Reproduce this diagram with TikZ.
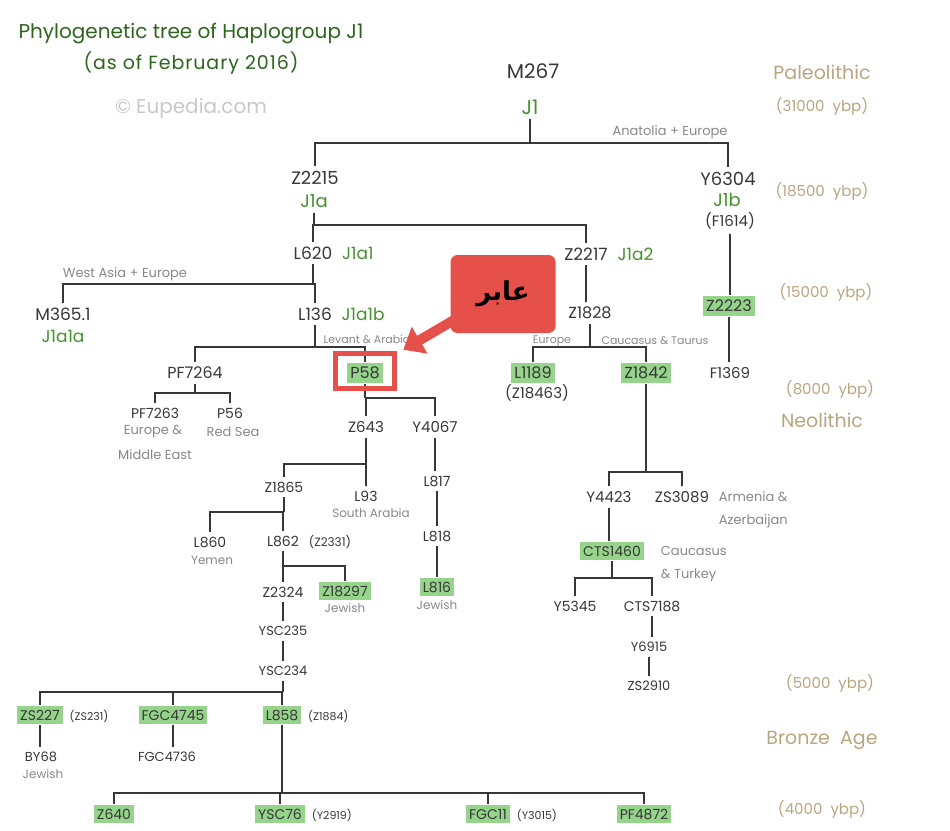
\documentclass[tikz,border=0pt]{standalone}
\usepackage{fontspec}
\setmainfont{Poppins}
\newfontfamily\arabicfont[Script=Arabic]{DejaVu Sans}
\TeXXeTstate=1
\usepackage{tikz}
\usetikzlibrary{positioning}
\usetikzlibrary{calc}
\usetikzlibrary{arrows.meta}
\definecolor{ink}{RGB}{55,55,55}
\definecolor{leaf}{RGB}{70,145,45}
\definecolor{titlegreen}{RGB}{45,100,30}
\definecolor{mint}{RGB}{150,212,140}
\definecolor{note}{RGB}{135,135,135}
\definecolor{tan}{RGB}{185,165,128}
\definecolor{watermark}{RGB}{200,200,200}
\definecolor{alert}{RGB}{230,80,75}
\newcommand{\fsz}[1]{\fontsize{#1}{#1}\selectfont}
\tikzset{every picture/.style={line width=1.9pt}}

\begin{document}
\begin{tikzpicture}[x=1pt, y=-1pt, every node/.style={inner sep=3pt}, snp/.style={text=ink, outer ysep=2pt}, hg/.style={text=leaf, outer ysep=2pt}, tested/.style={fill=mint, text=ink, inner xsep=3pt, inner ysep=4pt}, region/.style={text=note}, era/.style={text=tan}, link/.style={draw=ink}]
\useasboundingbox (0,0) rectangle (950,830);
\node (title) at (191,34) [text=titlegreen, font=\fsz{20}] {Phylogenetic tree of Haplogroup J1};
\node (subtitle) at (191,63) [text=titlegreen, font=\fsz{19}\addfontfeatures{LetterSpace=5}] {(as of February 2016)};
\node (eupedia) at (191,108) [text=watermark, font=\fsz{20}] {\textcopyright{} Eupedia.com};
\foreach \n/\x/\y/\s/\t in {m267/533/71/20/M267, z2215/315/178/18/Z2215, y6304/728/179/18/Y6304, f1614/730/221/15/(F1614), l620/313/253/17/L620, z2217/586/254/17/Z2217, m365/63/314/17/M365.1, l136/315/314/17/L136, z1828/590/313/16/Z1828, f1369/730/373/15/F1369, pf7264/195/373/16/PF7264, z18463/537/393/15/(Z18463), pf7263/155/413/14/PF7263, p56/230/413/14/P56, z643/366/427/15/Z643, y4067/435/427/15/Y4067, z1865/284/487/14/Z1865, l93/366/496/14/L93, l817/437/481/14/L817, l818/437/536/14/L818, l860/210/542/14/L860, l862/283/541/14/L862, z2324/283/592/14/Z2324, ysc235/283/631/13/YSC235, ysc234/283/671/13/YSC234, by68/41/757/13/BY68, fgc4736/167/757/13/FGC4736, y4423/609/497/15/Y4423, zs3089/682/497/15/ZS3089, y5345/575/606/14/Y5345, cts7188/652/606/14/CTS7188, y6915/649/647/13/Y6915, zs2910/649/686/13/ZS2910}
	\node (\n) at (\x,\y) [snp, font=\fsz{\s}] {\t};
\foreach \n/\x/\y/\s/\t in {j1/530/107/20/J1, j1a/314/201/18/J1a, j1b/727/200/18/J1b, j1a1a/63/336/17/J1a1a}
	\node (\n) at (\x,\y) [hg, font=\fsz{\s}] {\t};
\node (j1a1) [hg, font=\fsz{17}, base right=2pt of l620] {J1a1};
\node (j1a2) [hg, font=\fsz{17}, base right=2pt of z2217] {J1a2};
\node (j1a1b) [hg, font=\fsz{17}, base right=2pt of l136] {J1a1b};
\foreach \n/\x/\y/\s/\t in {z2223/729/306/16/Z2223, p58/365/373/16/P58, l1189/533/373/16/L1189, z1842/646/373/16/Z1842, l816/437/587/14/L816, z18297/345/591/14/Z18297, cts1460/612/551/14/CTS1460, zs227/40/715/14/ZS227, fgc4745/173/715/14/FGC4745, l858/282/715/14/L858, z640/114/814/14/Z640, ysc76/280/814/14/YSC76, fgc11/488/814/14/FGC11, pf4872/644/814/14/PF4872}
	\node (\n) at (\x,\y) [tested, font=\fsz{\s}] {\t};
\node (z2331) [snp, font=\fsz{12}, base right=2pt of l862] {(Z2331)};
\node (zs231) [snp, font=\fsz{11}, base right=2pt of zs227] {(ZS231)};
\node (z1884) [snp, font=\fsz{11}, base right=2pt of l858] {(Z1884)};
\node (y2919) [snp, font=\fsz{11}, base right=2pt of ysc76] {(Y2919)};
\node (y3015) [snp, font=\fsz{11}, base right=2pt of fgc11] {(Y3015)};
\foreach \n/\x/\y/\s/\t in {europe/153/432/13/Europe \&, redsea/233/432/13/Red Sea, mideast/155/455/13/Middle East, sarabia/371/513/12/South Arabia, jewish1/437/605/12/Jewish, yemen/212/560/12/Yemen, jewish2/345/608/12/Jewish, jewish3/43/774/12/Jewish, anatolia/670/132/13/Anatolia + Europe, westasia/125/274/13/West Asia + Europe, levant/367/339/11/Levant \& Arabia, europe2/552/341/11/Europe, taurus/655/341/11/Caucasus \& Taurus}
	\node (\n) at (\x,\y) [region, font=\fsz{\s}] {\t};
\foreach \n/\x/\y/\t in {armenia/715/497/Armenia \&, azerb/715/521/Azerbaijan, caucasus/657/551/Caucasus, turkey/657/575/\& Turkey}
	\node (\n) at (\x,\y) [region, anchor=west, font=\fsz{13}] {\t};
\node (paleo) at (822,72) [era, font=\fsz{19}] {Paleolithic};
\node (neo) at (822,420) [era, font=\fsz{19}] {Neolithic};
\node (bronze) at (822,740) [era, font=\fsz{19}] {Bronze\ \ Age};
\foreach \n/\x/\y/\t in {ybp31/822/106/31000, ybp18/822/191/18500, ybp15/826/292/15000, ybp8/830/389/8000, ybp5/830/683/5000, ybp4/822/809/4000}
	\node (\n) at (\x,\y) [era, font=\fsz{15}] {(\t\ \ ybp)};
\foreach \f/\x/\y/\p/\l/\r in {1/530/143/j1/z2215/y6304, 2/314/225/j1a/l620/z2217, 3/313/284/l620/m365/l136, 4/315/347/l136/pf7264/p58, 5/195/393/pf7264/pf7263/p56, 6/365/398/p58/z643/y4067, 7/366/464/z643/z1865/l93, 8/284/512/z1865/l860/l862, 9/283/566/l862/z2324/z18297, 10/283/692/ysc234/zs227/l858, 11/282/793/l858/z640/pf4872, 12/590/347/z1828/l1189/z1842, 13/646/472/z1842/y4423/zs3089, 14/612/578/cts1460/y5345/cts7188} {
	\coordinate (fork\f) at (\x,\y);
	\draw[link] (\p.south) -- (fork\f);
	\draw[link] (\l.north) |- (fork\f) -| (\r.north);
}
\foreach \c/\f in {fgc4745/10, ysc76/11, fgc11/11}
	\draw[link] (\c.north) -- (\c.north |- fork\f);
\foreach \a/\b in {f1614/z2223, z2223/f1369, z2217/z1828, y4067/l817, l817/l818, l818/l816, z2324/ysc235, ysc235/ysc234, zs227/by68, fgc4745/fgc4736, y4423/cts1460, cts7188/y6915, y6915/zs2910}
	\draw[link] (\a.south) -- (\a.south |- \b.north);
\node (frame) at (365,371) [draw=alert, line width=5.5pt, minimum width=59pt, minimum height=35pt, inner sep=0pt] {};
\node (abir) at (503,294) [fill=alert, rounded corners=7pt, minimum width=105pt, minimum height=78pt, font=\arabicfont\bfseries\fsz{26}] {\beginR عابر\endR};
\draw[alert, line width=10pt, -{Triangle[width=30pt,length=19pt]}] ($(abir.south west)+(8,-16)$) -- ($(frame.north east)+(6,-1)$);
\end{tikzpicture}
\end{document}
